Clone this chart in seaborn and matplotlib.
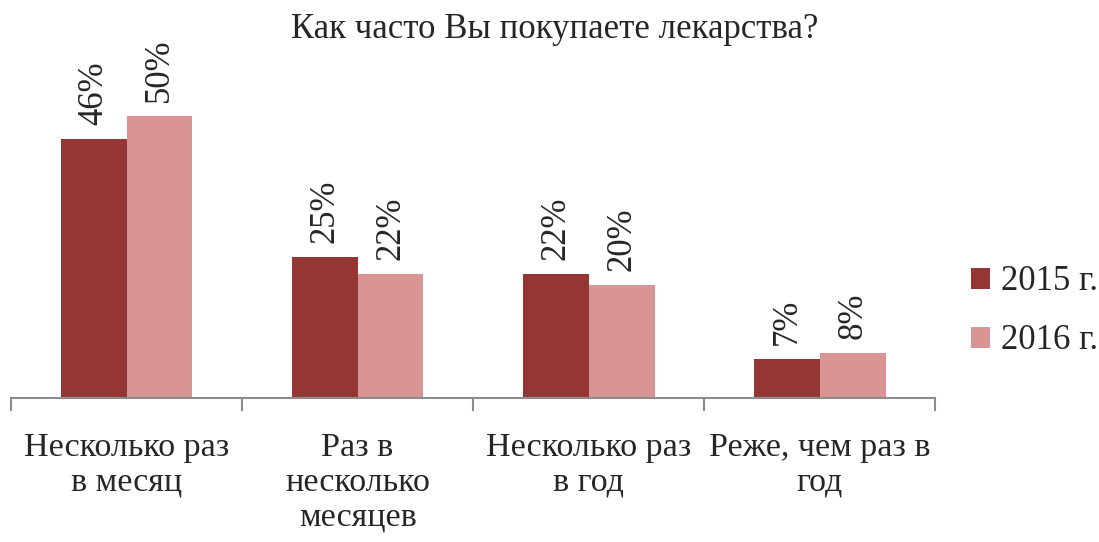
import pandas as pd
import seaborn as sns
import matplotlib.pyplot as plt
import matplotlib.ticker as ticker

categories = ["Несколько раз\nв месяц", "Раз в\nнесколько\nмесяцев",
              "Несколько раз\nв год", "Реже, чем раз в\nгод"]
years = ["2015 г.", "2016 г."]
values_2015 = [46, 25, 22, 7]
values_2016 = [50, 22, 20, 8]

df = pd.DataFrame({
    "cat": categories * 2,
    "year": [years[0]] * 4 + [years[1]] * 4,
    "val": values_2015 + values_2016,
})

sns.set_style("white")
plt.rcParams['font.family'] = ['Liberation Serif', 'DejaVu Serif']

fig = plt.figure(figsize=(10.99, 5.42), dpi=100)
ax = fig.add_axes([0.010, 0.2657, 0.841, 0.614])
sns.barplot(data=df, x="cat", y="val", hue="year", order=categories, hue_order=years,
            palette=["#943634", "#D99594"], width=0.57, saturation=1,
            linewidth=0, ax=ax)

for cont in ax.containers:
    labels = [f"{int(v)}%" for v in cont.datavalues]
    ax.bar_label(cont, labels=labels, rotation=90, padding=10, fontsize=25)

ax.set_ylim(0, 59)
ax.set_xlim(-0.5, 3.5)
ax.set_yticks([])
ax.set_xlabel("")
ax.set_ylabel("")
for s in ["top", "right", "left"]:
    ax.spines[s].set_visible(False)
ax.spines["bottom"].set_color("#8c8c8c")
ax.spines["bottom"].set_linewidth(1.5)
ax.tick_params(axis="x", which="major", length=0, pad=25, labelsize=24.5)
for lbl in ax.get_xticklabels():
    lbl.set_linespacing(1.18)
ax.xaxis.set_minor_locator(ticker.FixedLocator([-0.5, 0.5, 1.5, 2.5, 3.5]))
ax.tick_params(axis="x", which="minor", bottom=True, length=9, width=1.5,
               color="#8c8c8c", direction="out")

fig.text(0.505, 0.945, "Как часто Вы покупаете лекарства?", fontsize=25,
         ha="center", va="center")

leg = ax.legend(loc="center left", bbox_to_anchor=(1.005, 0.26), frameon=False,
                fontsize=25, handlelength=0.55, handleheight=0.55, handletextpad=0.3,
                labelspacing=0.75)

fig.savefig("out.png", dpi=100)
